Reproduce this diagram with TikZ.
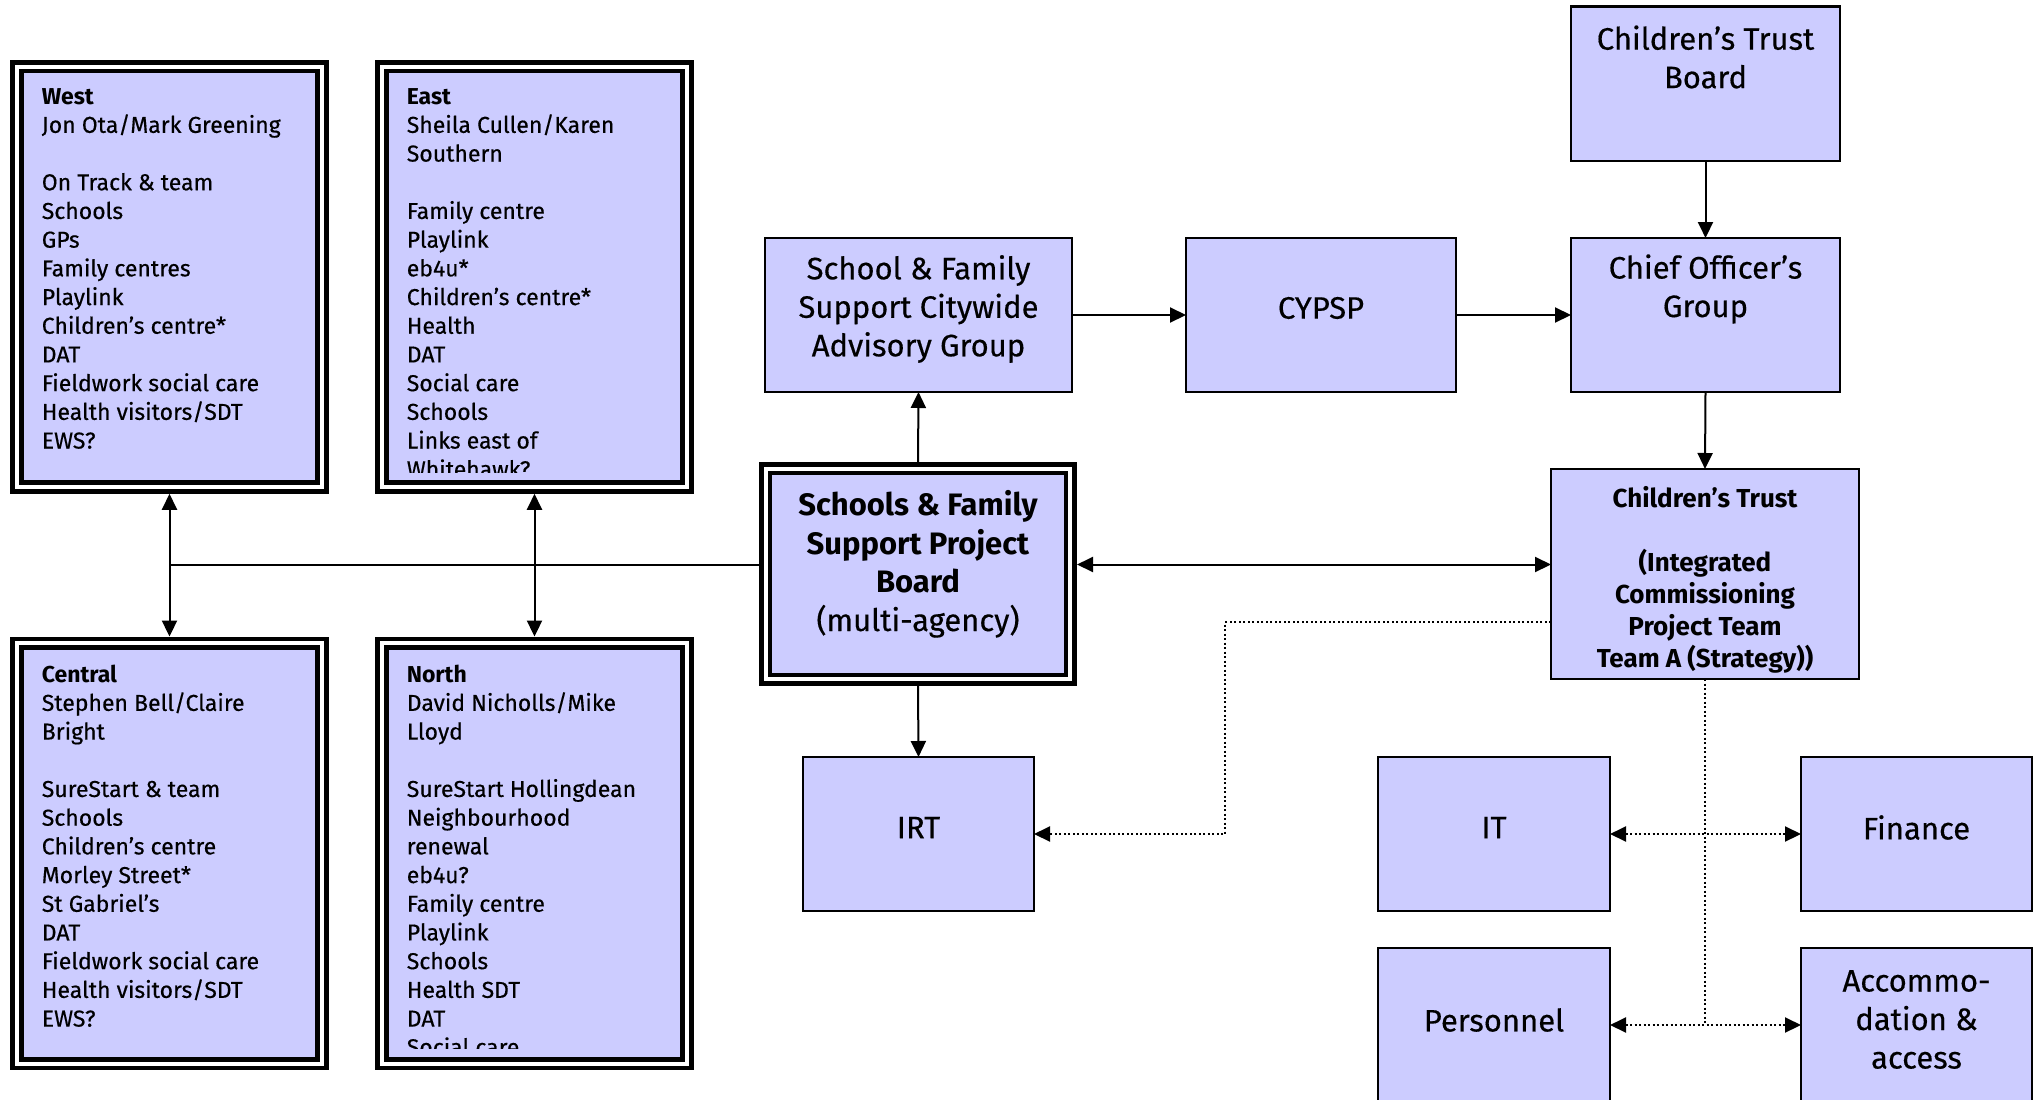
\documentclass[tikz,border=0pt]{standalone}
\usepackage{fontspec}
\setmainfont{Fira Sans}[UprightFeatures={FakeBold=0.4}]
\usetikzlibrary{arrows.meta}
\definecolor{lav}{RGB}{204,204,255}
\begin{document}
\begin{tikzpicture}[x=1pt,y=-1pt,
  box/.style={draw=black, line width=2.2pt, fill=lav, inner sep=0pt, outer sep=0pt},
  dbl/.style={draw=black, line width=4.7pt, double=white, double distance=4pt, fill=lav, inner sep=0pt, outer sep=6.7pt},
  small/.style={font=\fontsize{23}{28.7}\selectfont, align=left, anchor=north west, inner sep=0pt},
  big/.style={font=\fontsize{31}{38.5}\selectfont, align=center, inner sep=0pt},
  arr/.style={line width=2pt, -{Triangle[length=16pt,width=15pt]}},
  darr/.style={line width=2pt, {Triangle[length=16pt,width=15pt]}-{Triangle[length=16pt,width=15pt]}},
  dots/.style={line width=2pt, dash pattern=on 2pt off 2.5pt},
]
\clip (0,0) rectangle (2037,1100);
\fill[white] (0,0) rectangle (2037,1100);

% double-framed boxes
\node[dbl, minimum width=305pt, minimum height=420.5pt] (west) at (169.5,276.8) {};
\node[dbl, minimum width=305pt, minimum height=420.5pt] (east) at (534.5,276.8) {};
\node[dbl, minimum width=305pt, minimum height=420.5pt] (central) at (169.5,853.5) {};
\node[dbl, minimum width=305pt, minimum height=420.5pt] (north) at (534.5,853.5) {};
\node[dbl, minimum width=304.6pt, minimum height=210.6pt] (board) at (918,574) {};

% simple boxes
\node[box, minimum width=307pt, minimum height=154pt] (adv) at (918.5,315) {};
\node[box, minimum width=270pt, minimum height=154pt] (cypsp) at (1321,315) {};
\node[box, minimum width=269pt, minimum height=154pt] (chief) at (1705.5,315) {};
\node[box, minimum width=269pt, minimum height=154.5pt] (ctb) at (1705.5,83.8) {};
\node[box, minimum width=231pt, minimum height=154pt] (irt) at (918.5,834) {};
\node[box, minimum width=308pt, minimum height=210pt] (ct) at (1705,574) {};
\node[box, minimum width=232pt, minimum height=154pt] (it) at (1494,834) {};
\node[box, minimum width=231pt, minimum height=154pt] (fin) at (1916.5,834) {};
\node[box, minimum width=232pt, minimum height=154pt] (pers) at (1494,1025) {};
\node[box, minimum width=231pt, minimum height=154pt] (acc) at (1916.5,1025) {};

% texts of the area boxes
\node[small] (westtxt) at (41.6,88) {\textbf{West}\\Jon Ota/Mark Greening\\[28.7pt]On Track \& team\\Schools\\GPs\\Family centres\\Playlink\\Children’s centre*\\DAT\\Fieldwork social care\\Health visitors/SDT\\EWS?};
\begin{scope}
\clip (19,68) rectangle (690,472);
\node[small] (easttxt) at (406.6,88) {\textbf{East}\\Sheila Cullen/Karen\\Southern\\[28.7pt]Family centre\\Playlink\\eb4u*\\Children’s centre*\\Health\\DAT\\Social care\\Schools\\Links east of\\Whitehawk?};
\end{scope}
\node[small] (centraltxt) at (41.6,664.5) {\textbf{Central}\\Stephen Bell/Claire\\Bright\\[28.7pt]SureStart \& team\\Schools\\Children’s centre\\Morley Street*\\St Gabriel’s\\DAT\\Fieldwork social care\\Health visitors/SDT\\EWS?};
\begin{scope}
\clip (19,645) rectangle (690,1048);
\node[small] (northtxt) at (406.6,664.5) {\textbf{North}\\David Nicholls/Mike\\Lloyd\\[28.7pt]SureStart Hollingdean\\Neighbourhood\\renewal\\eb4u?\\Family centre\\Playlink\\Schools\\Health SDT\\DAT\\Social care};
\end{scope}

% texts of the other boxes
\node[big] (advtxt) at (918.5,309) {School \& Family\\Support Citywide\\Advisory Group};
\node[big] (cypsptxt) at (1321,308) {CYPSP};
\node[big] (chieftxt) at (1705.5,289) {Chief Officer’s\\Group};
\node[big] (ctbtxt) at (1705.5,57) {Children’s Trust\\Board};
\node[big] (boardtxt) at (918,564) {\textbf{Schools \& Family}\\\textbf{Support Project}\\\textbf{Board}\\(multi-agency)};
\node[big] (irttxt) at (918.5,827.5) {IRT};
\node[big] (ittxt) at (1494,827.5) {IT};
\node[big] (fintxt) at (1916.5,827.5) {Finance};
\node[big] (perstxt) at (1494,1020) {Personnel};
\node[big] (acctxt) at (1916.5,1019.5) {Accommo-\\dation \&\\access};
\begin{scope}
\clip (1553,471) rectangle (1857,672);
\node[font=\bfseries\fontsize{26}{32}\selectfont, align=center, inner sep=0pt] (cttxt) at (1705,579.5) {Children’s Trust\\\mbox{}\\(Integrated\\Commissioning\\Project Team\\Team A (Strategy))};
\end{scope}

% connectors
\coordinate (hl) at ([yshift=9.5pt]board.west);
\coordinate (hr) at ([yshift=9.5pt]board.east);
\draw[darr] (west.south) -- (central.north);
\draw[darr] (east.south) -- (north.north);
\draw[line width=2pt] (west.south |- hl) -- (hl);
\draw[darr] (hr) -- (hr -| ct.west);
\draw[arr] (board.north) -- (adv.south);
\draw[arr] (board.south) -- (irt.north);
\draw[arr] (adv.east) -- (cypsp.west);
\draw[arr] (cypsp.east) -- (chief.west);
\draw[arr] (ctb.south) -- (chief.north);
\draw[arr] (chief.south) -- (ct.north);

% dotted connectors
\coordinate (ctw) at ([yshift=-48pt]ct.west);
\coordinate (dk) at (1225,622);
\draw[dots, -{Triangle[length=16pt,width=15pt]}] (ctw) -- (dk) |- (irt.east);
\draw[dots] (ct.south) -- (ct.south |- pers.east);
\draw[dots, {Triangle[length=16pt,width=15pt]}-{Triangle[length=16pt,width=15pt]}] (it.east) -- (fin.west);
\draw[dots, {Triangle[length=16pt,width=15pt]}-{Triangle[length=16pt,width=15pt]}] (pers.east) -- (acc.west);
\end{tikzpicture}
\end{document}
